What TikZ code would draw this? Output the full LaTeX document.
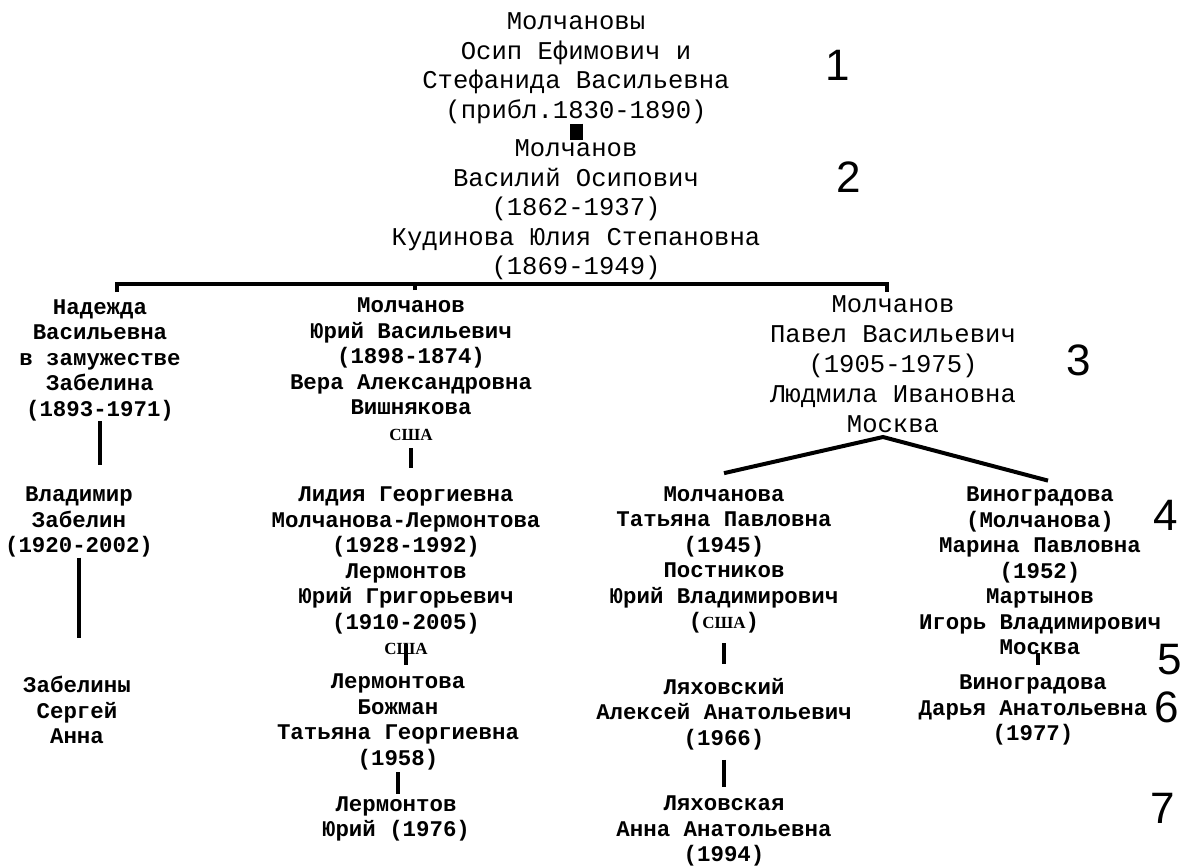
\documentclass[tikz,border=0pt]{standalone}
\usepackage{fontspec}
\setmonofont{Liberation Mono}
\newfontfamily\numfont{Liberation Sans}
\newfontfamily\usafont{Liberation Serif}
\usetikzlibrary{calc}

\tikzset{
    plainblock/.style={align=center, inner sep=0pt,
        font=\ttfamily\fontsize{12.8}{14.75}\selectfont},
    boldblock/.style={align=center, inner sep=0pt,
        font=\ttfamily\bfseries\fontsize{11.2}{12.75}\selectfont},
    gennum/.style={inner sep=0pt, font=\numfont\fontsize{22}{22}\selectfont},
    link/.style={draw, line width=2.2pt},
}
\newcommand{\usa}{{\usafont\bfseries\fontsize{8.5}{12.75}\selectfont США}}

\begin{document}
\begin{tikzpicture}[x=0.5pt, y=-0.5pt]
\useasboundingbox (0,0) rectangle (1184,867);

% Generation 1-2
\node (osip) [plainblock] at (576,68)
    {Молчановы\\Осип Ефимович и\\Стефанида Васильевна\\(прибл.1830-1890)};
\node (vasily) [plainblock] at (576,210)
    {Молчанов\\Василий Осипович\\(1862-1937)\\Кудинова Юлия Степановна\\(1869-1949)};
\draw [line width=6.5pt] (osip.south) -- (vasily.north);

% children bar
\coordinate (barL) at (117,292);
\coordinate (barR) at (887,292);
\coordinate (barM) at (415,290);
\draw [link, line width=2pt] (barL) -- ++(0,-8) -| (barR);
\draw [link, line width=2pt] (barM) -- ++(0,-6);

% Nadezhda
\node (nadezhda) [boldblock] at (100,360)
    {Надежда\\Васильевна\\в замужестве\\Забелина\\(1893-1971)};
\node (vladimir) [boldblock] at (79,522)
    {Владимир\\Забелин\\(1920-2002)};
\node (zabeliny) [boldblock] at (77,710)
    {Забелины\\Сергей\\Анна};
\draw [link, shorten >=10.5pt] (nadezhda.south) -- (nadezhda.south |- vladimir.north);
\draw [link, shorten >=19pt] (vladimir.south) -- (vladimir.south |- zabeliny.north);

% Yuri
\node (yuri) [boldblock] at (411,369)
    {Молчанов\\Юрий Васильевич\\(1898-1874)\\Вера Александровна\\Вишнякова\\\usa};
\node (lidia) [boldblock] at (406,571)
    {Лидия Георгиевна\\Молчанова-Лермонтова\\(1928-1992)\\Лермонтов\\Юрий Григорьевич\\(1910-2005)\\\usa};
\node (tatiana) [boldblock] at (398,722)
    {Лермонтова\\Божман\\Татьяна Георгиевна\\(1958)};
\node (yurl) [boldblock] at (396,819)
    {Лермонтов\\Юрий (1976)};
\draw [link, shorten <=3.75pt, shorten >=9.3pt] (yuri.south) -- (yuri.south |- lidia.north);
\draw [link, shorten <=-5.75pt, shorten >=4.3pt] (lidia.south) -- (lidia.south |- tatiana.north);
\draw [link, shorten <=1pt, shorten >=1pt] (tatiana.south) -- (tatiana.south |- yurl.north);

% Pavel
\node (pavel) [plainblock, font=\ttfamily\fontsize{12.8}{15}\selectfont] at (893,364)
    {Молчанов\\Павел Васильевич\\(1905-1975)\\Людмила Ивановна\\Москва};
\coordinate (fork) at (883,437);

\node (tatianap) [boldblock] at (724,560)
    {Молчанова\\Татьяна Павловна\\(1945)\\Постников\\Юрий Владимирович\\(\usa)};
\node (aleksey) [boldblock] at (724,714)
    {Ляховский\\Алексей Анатольевич\\(1966)};
\node (anna) [boldblock] at (724,831)
    {Ляховская\\Анна Анатольевна\\(1994)};

\node (marina) [boldblock] at (1040,571)
    {Виноградова\\(Молчанова)\\Марина Павловна\\(1952)\\Мартынов\\Игорь Владимирович\\Москва};
\node (daria) [boldblock] at (1033,710)
    {Виноградова\\Дарья Анатольевна\\(1977)};

\draw [link, line width=2pt] ($(tatianap.north)+(0,-13)$) -- (fork) -- ($(marina.north)+(8,-6)$);
\draw [link, shorten <=4.8pt, shorten >=6.8pt] (tatianap.south) -- (aleksey.north);
\draw [link, shorten <=4.8pt, shorten >=4pt] (aleksey.south) -- (anna.north);
\draw [link, shorten <=-1pt, shorten >=4.8pt] ($(marina.south)+(-2,0)$) -- ($(marina.south |- daria.north)+(-2,0)$);

% generation numbers
\node (g1) [gennum] at (838,65) {1};
\node (g2) [gennum] at (849,177) {2};
\node (g3) [gennum] at (1079,360) {3};
\node (g4) [gennum] at (1166,515) {4};
\node (g5) [gennum] at (1170,660) {5};
\node (g6) [gennum] at (1167,707) {6};
\node (g7) [gennum] at (1163,808) {7};

\end{tikzpicture}
\end{document}
